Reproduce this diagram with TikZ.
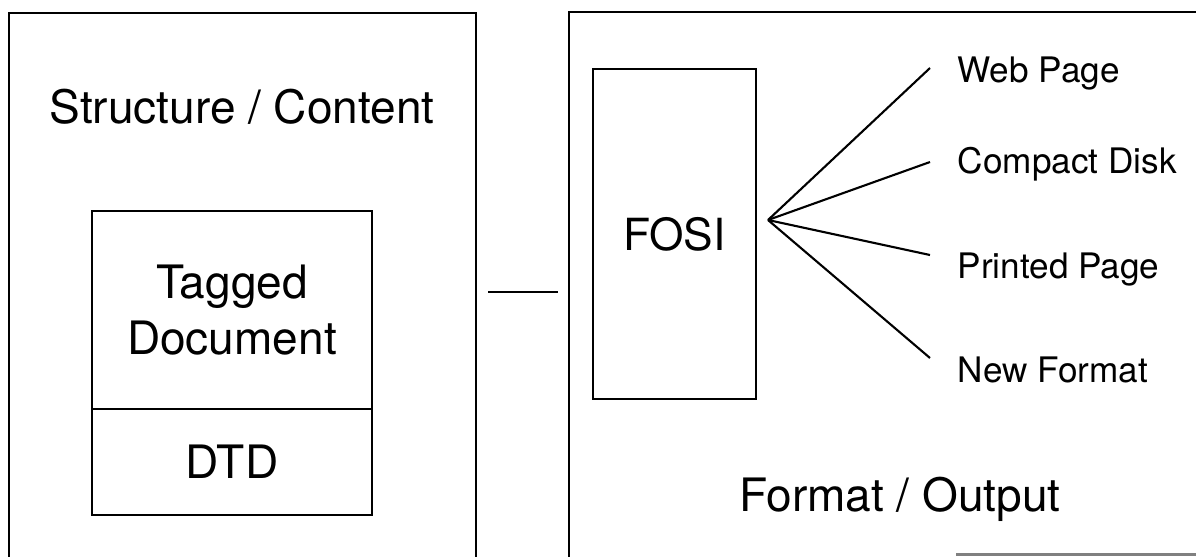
\documentclass[tikz,border=0pt]{standalone}
\usepackage{fontspec}
\setmainfont{TeX Gyre Heros}
\usetikzlibrary{positioning}

\begin{document}
\begin{tikzpicture}[
    frame/.style={rectangle, draw, line width=0.8pt, inner sep=0pt},
    block/.style={rectangle, draw, line width=0.5pt, align=center, inner sep=0pt, outer sep=0pt, font=\fontsize{13.1}{15.9}\selectfont},
    heading/.style={font=\fontsize{13.1}{15.9}\selectfont, inner sep=0pt, anchor=base},
    target/.style={font=\fontsize{10}{12}\selectfont, inner sep=0pt, anchor=base west},
    branch/.style={line width=0.6pt},
    link/.style={line width=0.8pt}
]
\useasboundingbox (0,0) rectangle (11.96,5.56);
\clip (0,0) rectangle (11.96,5.56);

% Structure / content side
\node[frame, minimum width=4.67cm, minimum height=5.58cm] (content) at (2.425,2.64) {};
\node[heading] (contenttitle) at (2.42,4.33) {Structure / Content};
\node[block, minimum width=2.80cm, minimum height=1.98cm] (tagged) at (2.32,2.46) {Tagged\\Document};
\node[block, minimum width=2.80cm, minimum height=1.06cm, below=0pt of tagged] (dtd) {DTD};

% Format / output side
\node[frame, minimum width=6.41cm, minimum height=5.60cm] (output) at (8.895,2.64) {};
\node[block, minimum width=1.63cm, minimum height=3.30cm, font=\fontsize{12.6}{15}\selectfont] (fosi) at (6.745,3.22) {FOSI};
\node[heading] (outputtitle) at (9.00,0.45) {Format / Output};

% Output media
\node[target] (web) at (9.57,4.74) {Web Page};
\node[target] (cd) at (9.57,3.83) {Compact Disk};
\node[target] (print) at (9.57,2.78) {Printed Page};
\node[target] (newfmt) at (9.57,1.74) {New Format};

\coordinate (fan) at (7.68,3.36);
\coordinate (webend) at (9.30,4.88);
\coordinate (cdend) at (9.30,3.94);
\coordinate (printend) at (9.30,3.01);
\coordinate (newend) at (9.30,1.98);

% Fan out of the FOSI
\draw[branch] (fan) -- (webend);
\draw[branch] (fan) -- (cdend);
\draw[branch] (fan) -- (printend);
\draw[branch] (fan) -- (newend);

% Link between the two sides
\draw[link] ([xshift=0.11cm]content.east) -- ([xshift=-0.10cm]output.west);

% Visible piece of the lower edge
\draw[gray, line width=0.6pt] (9.56,0.015) -- (11.96,0.015);

\end{tikzpicture}
\end{document}
